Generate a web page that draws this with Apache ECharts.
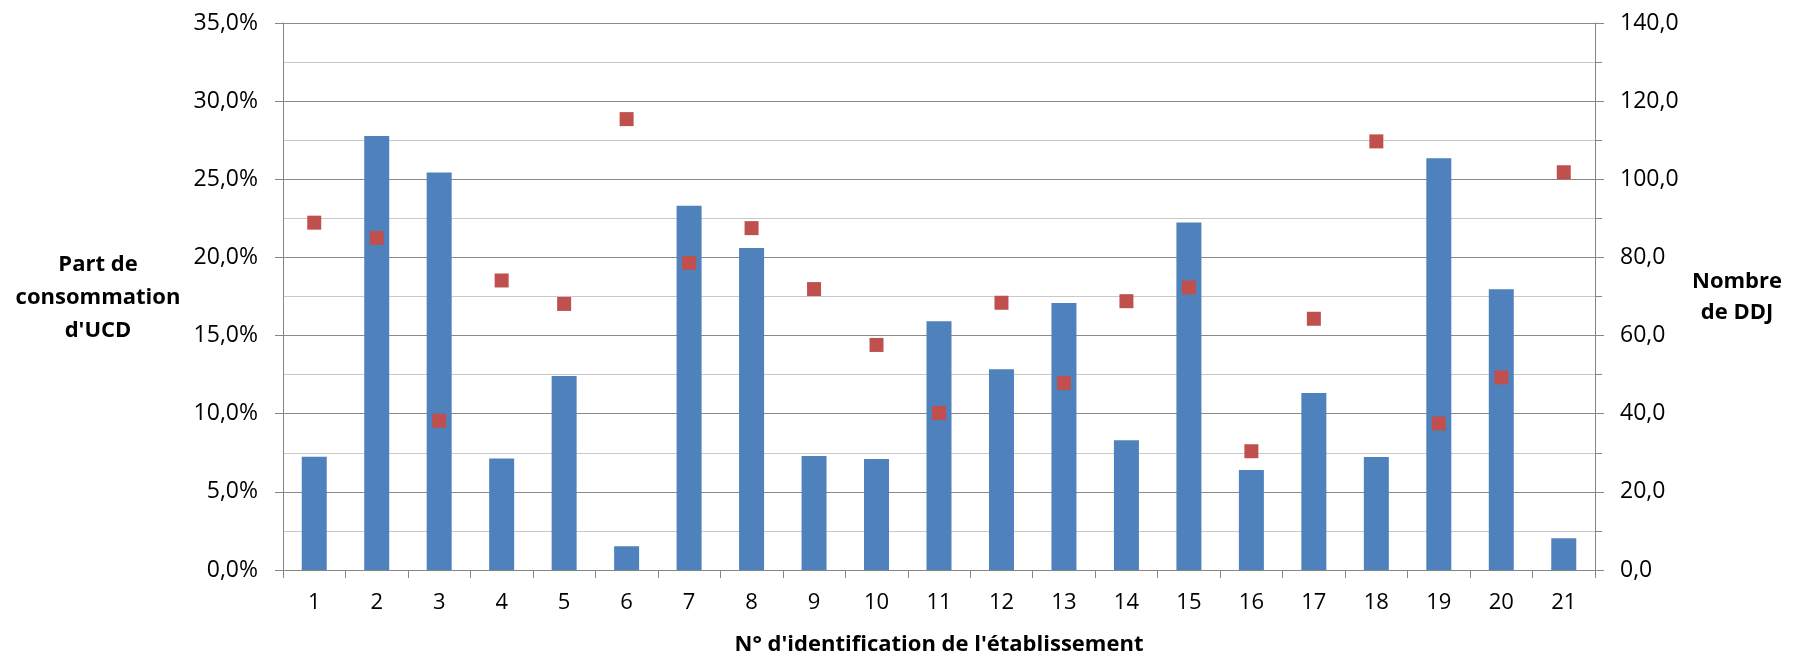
<!DOCTYPE html>
<html>
<head>
<meta charset="utf-8">
<script src="https://cdn.jsdelivr.net/npm/echarts@6/dist/echarts.min.js"></script>
<style>
html,body{margin:0;padding:0;background:#fff;}
#chart{width:1803px;height:657px;}
</style>
</head>
<body>
<div id="chart"></div>
<script>
const categories = ['1','2','3','4','5','6','7','8','9','10','11','12','13','14','15','16','17','18','19','20','21'];
// Part de consommation d'UCD (%)
const partUCD = [7.25, 27.77, 25.44, 7.14, 12.41, 1.52, 23.31, 20.6, 7.29, 7.1, 15.91, 12.84, 17.08, 8.3, 22.24, 6.4, 11.32, 7.23, 26.34, 17.96, 2.03];
// Nombre de DDJ
const nombreDDJ = [88.9, 85.0, 38.2, 74.1, 68.1, 115.4, 78.6, 87.5, 71.9, 57.6, 40.2, 68.4, 47.9, 68.8, 72.3, 30.4, 64.3, 109.7, 37.5, 49.3, 101.8];

const FONT = 'Open Sans';
const chart = echarts.init(document.getElementById('chart'), null, {renderer: 'canvas'});
const fmt1 = v => v.toFixed(1).replace('.', ',');

chart.setOption({
  animation: false,
  backgroundColor: '#ffffff',
  textStyle: {fontFamily: FONT},
  grid: {left: 283, right: 208, top: 23, bottom: 87, containLabel: false},
  xAxis: {
    type: 'category',
    data: categories,
    boundaryGap: true,
    axisLine: {show: true, lineStyle: {color: '#868686', width: 1}},
    axisTick: {show: true, alignWithLabel: false, length: 8, lineStyle: {color: '#868686'}},
    axisLabel: {color: '#000', fontSize: 22, fontFamily: FONT, margin: 22},
    splitLine: {show: false}
  },
  yAxis: [
    {
      type: 'value', min: 0, max: 35, interval: 5,
      axisLine: {show: true, lineStyle: {color: '#868686'}},
      axisTick: {show: true, length: 8, lineStyle: {color: '#868686'}},
      axisLabel: {color: '#000', fontSize: 23, fontFamily: FONT, margin: 25, formatter: v => fmt1(v) + '%'},
      splitLine: {show: true, lineStyle: {color: '#8a8a8a', width: 1}},
      minorTick: {show: false, splitNumber: 2},
      minorSplitLine: {show: true, lineStyle: {color: '#c9c9c9', width: 1}}
    },
    {
      type: 'value', min: 0, max: 140, interval: 20, position: 'right',
      axisLine: {show: true, lineStyle: {color: '#868686'}},
      axisTick: {show: true, length: 9, lineStyle: {color: '#868686'}},
      minorTick: {show: true, splitNumber: 2, length: 7, lineStyle: {color: '#868686'}},
      axisLabel: {color: '#000', fontSize: 23, fontFamily: FONT, margin: 25, formatter: v => fmt1(v)},
      splitLine: {show: false},
      minorSplitLine: {show: false}
    }
  ],
  series: [
    {
      name: "Part de consommation d'UCD",
      type: 'bar',
      yAxisIndex: 0,
      data: partUCD,
      barWidth: 25,
      itemStyle: {color: '#4F81BD'}
    },
    {
      name: 'Nombre de DDJ',
      type: 'scatter',
      yAxisIndex: 1,
      data: nombreDDJ,
      symbol: 'rect',
      symbolSize: 14,
      itemStyle: {color: '#C0504D', opacity: 1}
    }
  ],
  graphic: [
    {
      type: 'text', x: 939, y: 645,
      style: {text: "N° d'identification de l'établissement", font: 'bold 22px "' + FONT + '"', fill: '#000', align: 'center', verticalAlign: 'middle'}
    },
    {
      type: 'text', x: 98, y: 298,
      style: {text: "Part de\nconsommation\nd'UCD", font: 'bold 22px "' + FONT + '"', fill: '#000', align: 'center', verticalAlign: 'middle', lineHeight: 33}
    },
    {
      type: 'text', x: 1737, y: 297,
      style: {text: "Nombre\nde DDJ", font: 'bold 22px "' + FONT + '"', fill: '#000', align: 'center', verticalAlign: 'middle', lineHeight: 31}
    }
  ]
});
</script>
</body>
</html>
